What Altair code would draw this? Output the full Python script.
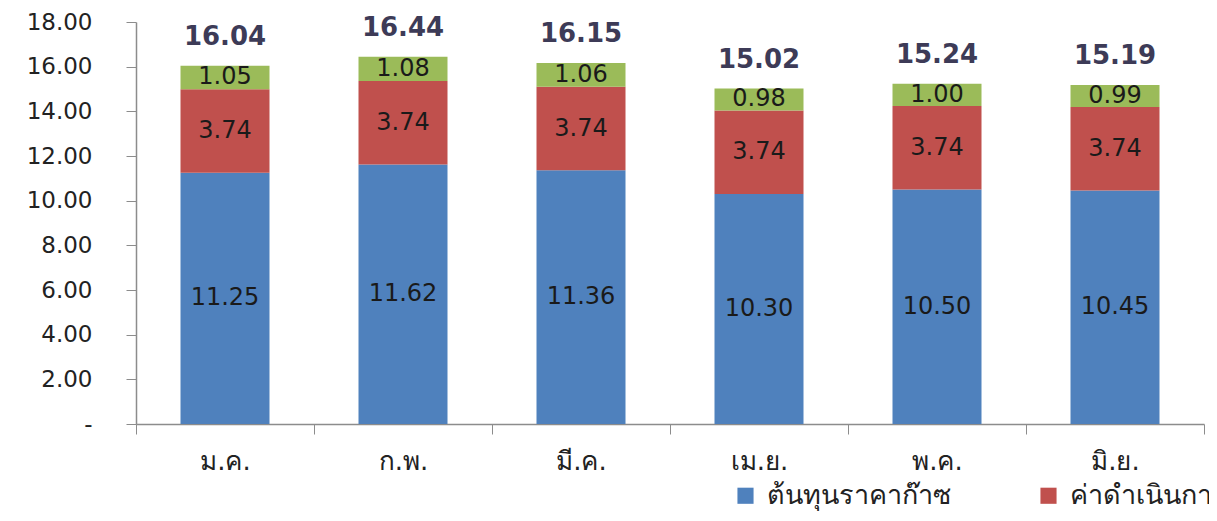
import altair as alt
import pandas as pd

months = ["ม.ค.", "ก.พ.", "มี.ค.", "เม.ย.", "พ.ค.", "มิ.ย."]
series = ["ต้นทุนราคาก๊าซ", "ค่าดำเนินการ", "ภาษีมูลค่าเพิ่ม"]
gas_cost = [11.25, 11.62, 11.36, 10.30, 10.50, 10.45]
operating = [3.74, 3.74, 3.74, 3.74, 3.74, 3.74]
vat = [1.05, 1.08, 1.06, 0.98, 1.00, 0.99]
totals = [16.04, 16.44, 16.15, 15.02, 15.24, 15.19]
colors = ["#4F81BD", "#C0504D", "#9BBB59"]

rows = []
for i, m in enumerate(months):
    base = 0.0
    for k, (name, vals) in enumerate(zip(series, [gas_cost, operating, vat])):
        v = vals[i]
        rows.append({"month": m, "series": name, "order": k, "value": v,
                     "mid": base + v / 2, "label": f"{v:.2f}"})
        base += v
df = pd.DataFrame(rows)
tot = pd.DataFrame({"month": months, "total": totals,
                    "label": [f"{t:.2f}" for t in totals]})

FONT = "DejaVu Sans"

x = alt.X("month:N", sort=months, title=None,
          scale=alt.Scale(paddingInner=0, paddingOuter=0),
          axis=alt.Axis(labelAngle=0, labelFontSize=26, labelColor="#222222",
                        labelFont=FONT, labelPadding=14, tickSize=10,
                        tickBand="extent", domainColor="#8c8c8c",
                        tickColor="#8c8c8c", domainWidth=1.5))

bars = alt.Chart(df).mark_bar(width=alt.RelativeBandSize(0.5)).encode(
    x=x,
    y=alt.Y("value:Q", stack="zero", title=None,
            scale=alt.Scale(domain=[0, 18], nice=False),
            axis=alt.Axis(values=[0, 2, 4, 6, 8, 10, 12, 14, 16, 18],
                          labelExpr="datum.value == 0 ? '-\u00a0\u00a0\u00a0' : format(datum.value, '.2f')",
                          labelFontSize=23, labelColor="#222222", labelFont=FONT,
                          labelPadding=34, tickSize=10, grid=False,
                          domainColor="#8c8c8c", tickColor="#8c8c8c",
                          domainWidth=1.5)),
    color=alt.Color("series:N", sort=series,
                    scale=alt.Scale(domain=series, range=colors),
                    legend=alt.Legend(title=None, orient="none", direction="horizontal",
                                      legendX=596, legendY=460,
                                      symbolType="square", symbolSize=260,
                                      symbolStrokeWidth=0,
                                      labelFontSize=27, labelFont=FONT,
                                      labelColor="#222222", columnPadding=84,
                                      labelOffset=8, labelLimit=500)),
    order=alt.Order("order:Q"),
)

seg_text = alt.Chart(df).mark_text(fontSize=24, font=FONT, color="#1a1a1a",
                                   baseline="middle").encode(
    x=alt.X("month:N", sort=months),
    y=alt.Y("mid:Q"),
    text="label:N",
)

tot_text = alt.Chart(tot).mark_text(fontSize=26, font=FONT, fontWeight="bold",
                                    color="#3d3b57", baseline="middle", dy=-29).encode(
    x=alt.X("month:N", sort=months),
    y=alt.Y("total:Q"),
    text="label:N",
)

chart = alt.layer(bars, seg_text, tot_text).properties(
    width=1068, height=402,
    padding={"left": 128, "top": 14, "right": 5, "bottom": 92},
    autosize=alt.AutoSizeParams(type="none"),
    background="white",
).configure_view(stroke=None)

chart.save("out.html", embed_options={"renderer": "svg", "actions": False})
